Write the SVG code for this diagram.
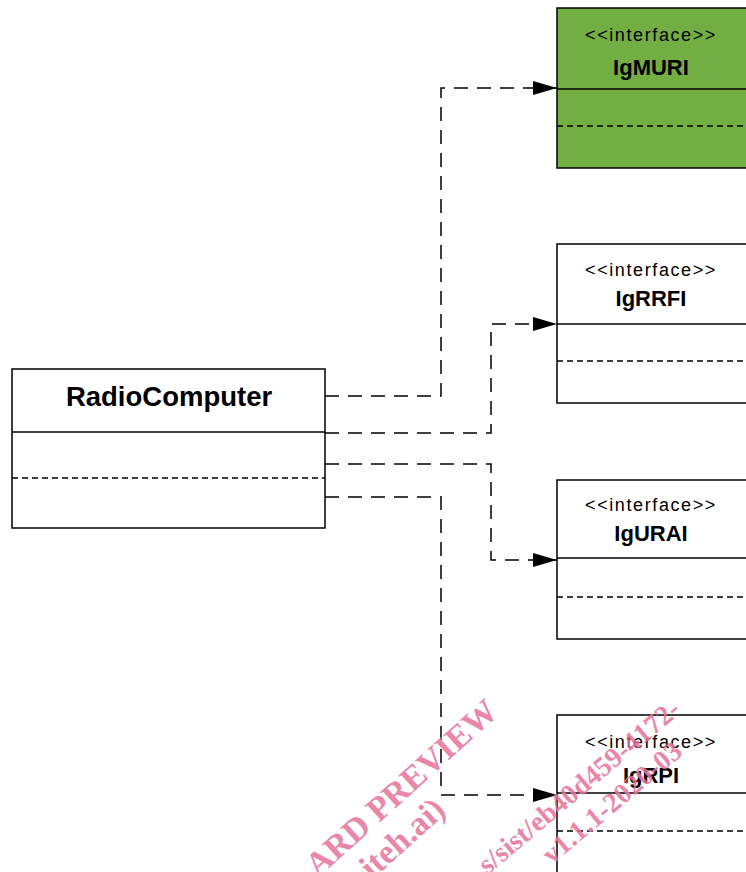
<svg xmlns="http://www.w3.org/2000/svg" width="746" height="872" viewBox="0 0 746 872">
<defs>
<marker id="arr" markerWidth="24" markerHeight="18" refX="24" refY="9" orient="auto" markerUnits="userSpaceOnUse">
<path d="M0,2 L24,9 L0,16 Z" fill="#000"/>
</marker>
<style>
.box{stroke:#000;stroke-width:1.5}
.div{stroke:#000;stroke-width:1.5}
.dash{stroke:#000;stroke-width:1.3;stroke-dasharray:6,4}
.st{font-family:"Liberation Sans",Arial,sans-serif;font-size:18px;letter-spacing:1.6px;text-anchor:middle;fill:#000}
.nm{font-family:"Liberation Sans",Arial,sans-serif;font-size:22px;font-weight:bold;text-anchor:middle;fill:#000}
.conn{fill:none;stroke:#000;stroke-width:1.5;stroke-dasharray:14,9}
.wm{font-family:"Liberation Serif","Times New Roman",serif;font-weight:bold;fill:#e5739a;opacity:0.85}
</style>
</defs>
<rect width="746" height="872" fill="#fff"/>
<g id="IgMURI">
<rect class="box" x="557" y="8" width="200" height="160" fill="#72ae42"/>
<line class="div" x1="557" y1="89" x2="757" y2="89"/>
<line class="dash" x1="557" y1="126" x2="757" y2="126"/>
<text class="st" x="651" y="41">&lt;&lt;interface&gt;&gt;</text>
<text class="nm" x="651" y="75">IgMURI</text>
</g>
<g id="IgRRFI">
<rect class="box" x="557" y="244" width="200" height="159" fill="#fff"/>
<line class="div" x1="557" y1="324" x2="757" y2="324"/>
<line class="dash" x1="557" y1="361" x2="757" y2="361"/>
<text class="st" x="651" y="276">&lt;&lt;interface&gt;&gt;</text>
<text class="nm" x="651" y="306">IgRRFI</text>
</g>
<g id="IgURAI">
<rect class="box" x="557" y="480" width="200" height="159" fill="#fff"/>
<line class="div" x1="557" y1="558" x2="757" y2="558"/>
<line class="dash" x1="557" y1="597" x2="757" y2="597"/>
<text class="st" x="651" y="511">&lt;&lt;interface&gt;&gt;</text>
<text class="nm" x="651" y="541">IgURAI</text>
</g>
<g id="IgRPI">
<rect class="box" x="557" y="715" width="200" height="170" fill="#fff"/>
<line class="div" x1="557" y1="793" x2="757" y2="793"/>
<line class="dash" x1="557" y1="831" x2="757" y2="831"/>
<text class="st" x="651" y="748">&lt;&lt;interface&gt;&gt;</text>
<text class="nm" x="651" y="783">IgRPI</text>
</g>
<g id="RadioComputer">
<rect class="box" x="12" y="369" width="313" height="159" fill="#fff"/>
<line class="div" x1="12" y1="432" x2="325" y2="432"/>
<line class="dash" x1="12" y1="478" x2="325" y2="478"/>
<text class="nm" x="169" y="406" style="font-size:27.5px">RadioComputer</text>
</g>
<g id="connectors">
<path class="conn" d="M325,396 H441 V88 H557" marker-end="url(#arr)"/>
<path class="conn" d="M325,433 H491 V324 H557" marker-end="url(#arr)"/>
<path class="conn" d="M325,464 H491 V560 H557" marker-end="url(#arr)"/>
<path class="conn" d="M325,497 H441 V795 H557" marker-end="url(#arr)"/>
</g>
<g id="watermark">
<text class="wm" font-size="34" transform="translate(318,878) rotate(-42)">ARD PREVIEW</text>
<text class="wm" font-size="34" transform="translate(372,880) rotate(-42)">iteh.ai)</text>
<text class="wm" font-size="28" text-anchor="end" transform="translate(682,712) rotate(-40)">s/sist/eb40d459-4172-</text>
<text class="wm" font-size="28" text-anchor="end" transform="translate(684,754) rotate(-40)">v1.1.1-2020-03</text>
</g>
</svg>
